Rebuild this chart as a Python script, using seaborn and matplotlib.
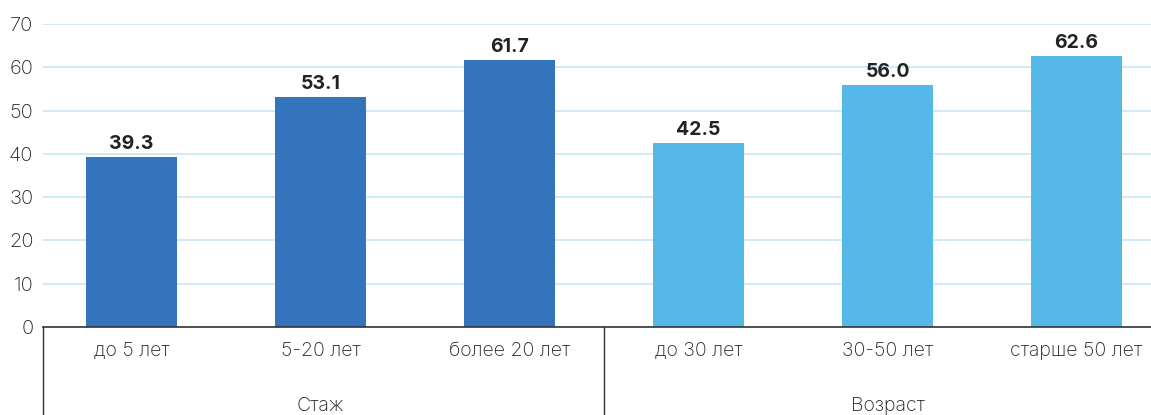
import matplotlib
matplotlib.use("Agg")
import matplotlib.pyplot as plt
import seaborn as sns
import pandas as pd

# data
categories = ["до 5 лет", "5-20 лет", "более 20 лет", "до 30 лет", "30-50 лет", "старше 50 лет"]
groups = ["Стаж", "Стаж", "Стаж", "Возраст", "Возраст", "Возраст"]
values = [39.3, 53.1, 61.7, 42.5, 56.0, 62.6]
group_names = ["Стаж", "Возраст"]
colors = {"Стаж": "#3474BC", "Возраст": "#56B8E8"}

df = pd.DataFrame({"cat": categories, "group": groups, "value": values})

sns.set_style("white")
plt.rcParams["font.family"] = ["Inter", "DejaVu Sans"]

fig = plt.figure(figsize=(11.51, 4.15), dpi=100)
ax = fig.add_axes([0.0374, 0.212, 0.9626, 0.730])

sns.barplot(data=df, x="cat", y="value", hue="group", palette=colors,
            dodge=False, width=0.48, legend=False, ax=ax, saturation=1,
            linewidth=0)

ax.set_ylim(0, 70)
ax.set_yticks(range(0, 71, 10))
ax.set_xlim(-0.468, 5.394)
ax.yaxis.grid(True, color="#C9E9F7", linewidth=1.3)
ax.set_axisbelow(True)
ax.tick_params(axis="y", labelsize=14.5, colors="#222222", length=0, pad=7)
ax.tick_params(axis="x", labelsize=14, colors="#222222", length=0, pad=11)
for lbl in ax.get_xticklabels() + ax.get_yticklabels():
    lbl.set_fontweight("light")
ax.set_xlabel("")
ax.set_ylabel("")

for s in ["top", "right", "left"]:
    ax.spines[s].set_visible(False)
ax.spines["bottom"].set_color("#333333")
ax.spines["bottom"].set_linewidth(1.2)

# value labels
for i, v in enumerate(values):
    ax.text(i, v + 0.9, f"{v:.1f}", ha="center", va="bottom",
            fontsize=14, fontweight="bold", color="#222222")

# group separators and labels below axis
trans = ax.get_xaxis_transform()
for xpos in [-0.468, 2.5]:
    ax.plot([xpos, xpos], [0, -0.29], transform=trans, color="#333333",
            linewidth=1.0, clip_on=False)
for k, g in enumerate(group_names):
    ax.text(1 + 3 * k, -0.26, g, transform=trans, ha="center", va="center",
            fontsize=14, fontweight="light", color="#222222")

fig.savefig("out.png", dpi=100)
